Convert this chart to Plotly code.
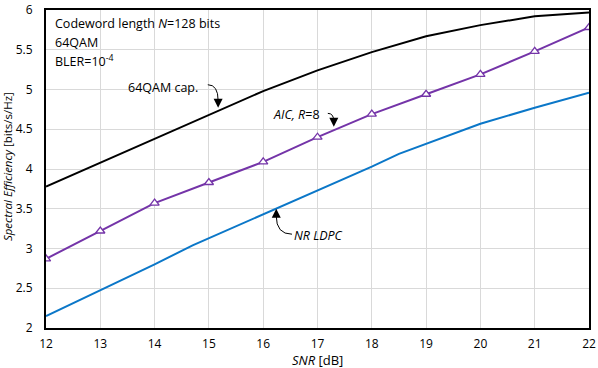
import plotly.graph_objects as go

# 64QAM capacity
cap_snr = [12, 13, 14, 15, 16, 17, 18, 19, 20, 21, 22]
cap_se = [3.78, 4.08, 4.38, 4.69, 4.98, 5.24, 5.47, 5.67, 5.81, 5.92, 5.97]

# AIC, R=8
aic_snr = [12, 13, 14, 15, 16, 17, 18, 19, 20, 21, 22]
aic_se = [2.87, 3.22, 3.57, 3.83, 4.09, 4.40, 4.69, 4.94, 5.19, 5.48, 5.78]

# NR LDPC
ldpc_snr = [12, 13, 13.5, 14, 14.7, 15, 16, 17, 18, 18.5, 19, 20, 21, 22]
ldpc_se = [2.15, 2.47, 2.63, 2.80, 3.04, 3.13, 3.44, 3.73, 4.03, 4.19, 4.32, 4.57, 4.77, 4.96]

x_ticks = [12, 13, 14, 15, 16, 17, 18, 19, 20, 21, 22]
y_ticks = [2, 2.5, 3, 3.5, 4, 4.5, 5, 5.5, 6]

FONT = "Open Sans"

fig = go.Figure()
fig.add_trace(go.Scatter(x=cap_snr, y=cap_se, mode="lines",
                         line=dict(color="black", width=2), name="64QAM cap."))
fig.add_trace(go.Scatter(x=ldpc_snr, y=ldpc_se, mode="lines",
                         line=dict(color="#0B77C8", width=2), name="NR LDPC"))
fig.add_trace(go.Scatter(x=aic_snr, y=aic_se, mode="lines+markers",
                         line=dict(color="#7434A8", width=2),
                         marker=dict(symbol="triangle-up", size=8, color="white",
                                     line=dict(color="#7434A8", width=1.3)),
                         name="AIC, R=8"))

axis_common = dict(showline=True, linecolor="black", linewidth=2, mirror=True,
                   showgrid=True, gridcolor="#d9d9d9", gridwidth=1, zeroline=False,
                   ticks="", automargin=False,
                   tickfont=dict(family=FONT, size=12, color="black"))

fig.update_xaxes(range=[12, 22], tickvals=x_ticks, ticklabelstandoff=4, **axis_common)
fig.update_yaxes(range=[2, 6], tickvals=y_ticks, ticklabelstandoff=9, **axis_common)

ann_font = dict(family=FONT, size=12.5, color="black")

# axis titles
fig.add_annotation(xref="paper", yref="paper", x=0.50, y=-0.1, showarrow=False,
                   xanchor="center", yanchor="middle",
                   text="<i>SNR</i> [dB]", font=dict(family=FONT, size=13, color="black"))
fig.add_annotation(xref="paper", yref="paper", x=-0.0718, y=0.506, showarrow=False,
                   xanchor="center", yanchor="middle",
                   textangle=-90, text="<i>Spectral Efficiency</i> [bits/s/Hz]",
                   font=dict(family=FONT, size=11.5, color="black"))

# text box
box_lines = ["Codeword length <i>N</i>=128 bits", "64QAM", "BLER=10<sup>-4</sup>"]
for txt, yp in zip(box_lines, [0.956, 0.899, 0.840]):
    fig.add_annotation(xref="paper", yref="paper", x=0.013, y=yp, xanchor="left",
                       yanchor="middle", showarrow=False, font=ann_font, text=txt)

# labels
fig.add_annotation(x=14.15, y=5.03, text="64QAM cap.", showarrow=False, font=ann_font)
fig.add_annotation(x=16.62, y=4.68, text="<i>AIC, R</i>=8", showarrow=False, font=ann_font)
fig.add_annotation(x=17.01, y=3.16, text="<i>NR LDPC</i>", showarrow=False, font=ann_font)

# curved leader lines
fig.add_shape(type="path", path="M 14.98 5.06 Q 15.17 5.06 15.17 4.86",
              line=dict(color="black", width=1))
fig.add_shape(type="path", path="M 17.19 4.70 Q 17.30 4.70 17.30 4.60",
              line=dict(color="black", width=1))
fig.add_shape(type="path", path="M 16.53 3.18 Q 16.24 3.18 16.24 3.41",
              line=dict(color="black", width=1))

# arrowheads
fig.add_annotation(x=15.17, y=4.77, ax=15.17, ay=4.87, axref="x", ayref="y", text="",
                   showarrow=True, arrowhead=2, arrowsize=1.5, arrowwidth=1.2, arrowcolor="black")
fig.add_annotation(x=17.30, y=4.53, ax=17.30, ay=4.61, axref="x", ayref="y", text="",
                   showarrow=True, arrowhead=2, arrowsize=1.5, arrowwidth=1.2, arrowcolor="black")
fig.add_annotation(x=16.24, y=3.50, ax=16.24, ay=3.40, axref="x", ayref="y", text="",
                   showarrow=True, arrowhead=2, arrowsize=1.5, arrowwidth=1.2, arrowcolor="black")

fig.update_layout(width=598, height=368, showlegend=False,
                  margin=dict(l=46, r=9, t=10, b=40),
                  paper_bgcolor="white", plot_bgcolor="white",
                  font=dict(family=FONT, color="black"))

fig.write_html("out.html", config={"displayModeBar": False},
               post_script="document.body.style.margin='0';")
